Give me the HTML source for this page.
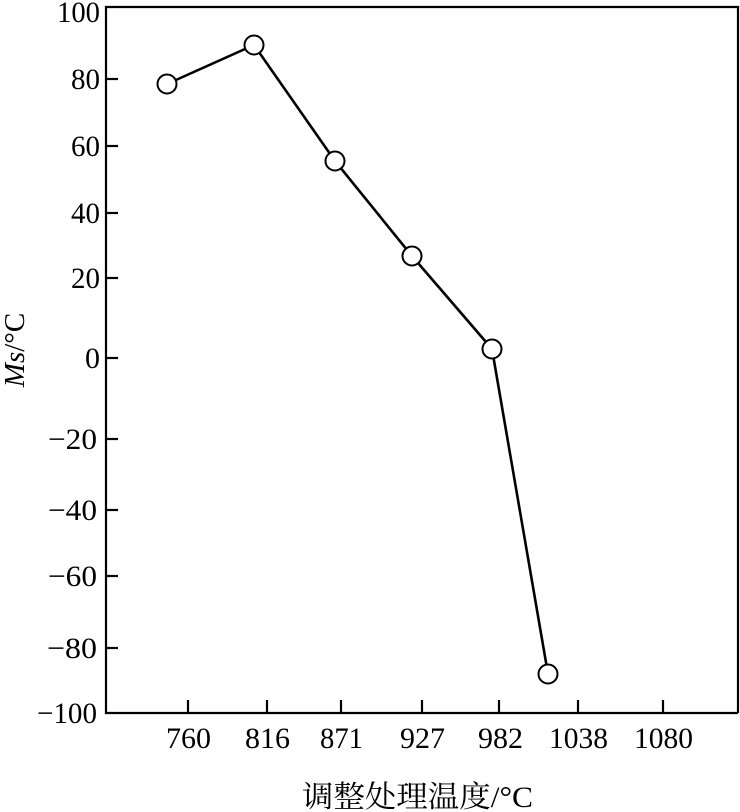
<!DOCTYPE html>
<html><head><meta charset="utf-8"><style>
html,body{margin:0;padding:0;background:#fff;}
svg{display:block;}
text{font-family:"Liberation Serif","Noto Serif CJK SC",serif;fill:#000;}
</style></head><body>
<svg width="740" height="812" viewBox="0 0 740 812">
<g stroke="#000" stroke-width="2.2" fill="none">
<polyline points="738,713 106,713 106,7 738,7 738,713"/>
<line x1="106" y1="79" x2="118" y2="79"/>
<line x1="106" y1="146" x2="118" y2="146"/>
<line x1="106" y1="213" x2="118" y2="213"/>
<line x1="106" y1="278" x2="118" y2="278"/>
<line x1="106" y1="358" x2="118" y2="358"/>
<line x1="106" y1="439" x2="118" y2="439"/>
<line x1="106" y1="510" x2="118" y2="510"/>
<line x1="106" y1="576" x2="118" y2="576"/>
<line x1="106" y1="648" x2="118" y2="648"/>
<line x1="188" y1="713" x2="188" y2="700"/>
<line x1="267" y1="713" x2="267" y2="700"/>
<line x1="341" y1="713" x2="341" y2="700"/>
<line x1="422" y1="713" x2="422" y2="700"/>
<line x1="499" y1="713" x2="499" y2="700"/>
<line x1="578" y1="713" x2="578" y2="700"/>
<line x1="663" y1="713" x2="663" y2="700"/>
<polyline stroke-width="2.6" points="167,84 254,45 335,161 412,256 492,349 548,674"/>
</g>
<g stroke="#000" stroke-width="2" fill="#fff">
<circle cx="167" cy="84" r="9.5"/>
<circle cx="254" cy="45" r="9.5"/>
<circle cx="335" cy="161" r="9.5"/>
<circle cx="412" cy="256" r="9.5"/>
<circle cx="492" cy="349" r="9.5"/>
<circle cx="548" cy="674" r="9.5"/>
</g>
<g font-size="30" lengthAdjust="spacingAndGlyphs">
<text x="57" y="22" textLength="43" lengthAdjust="spacingAndGlyphs">100</text>
<text x="71" y="89" textLength="29" lengthAdjust="spacingAndGlyphs">80</text>
<text x="71" y="156" textLength="29" lengthAdjust="spacingAndGlyphs">60</text>
<text x="71" y="223" textLength="29" lengthAdjust="spacingAndGlyphs">40</text>
<text x="71" y="288" textLength="29" lengthAdjust="spacingAndGlyphs">20</text>
<text x="85" y="368" textLength="15" lengthAdjust="spacingAndGlyphs">0</text>
<text x="48" y="449" textLength="49" lengthAdjust="spacingAndGlyphs">−20</text>
<text x="48" y="520" textLength="49" lengthAdjust="spacingAndGlyphs">−40</text>
<text x="48" y="586" textLength="49" lengthAdjust="spacingAndGlyphs">−60</text>
<text x="47" y="658" textLength="50" lengthAdjust="spacingAndGlyphs">−80</text>
<text x="37" y="723" textLength="60" lengthAdjust="spacingAndGlyphs">−100</text>
</g>
<g font-size="30">
<text x="166" y="748" textLength="45" lengthAdjust="spacingAndGlyphs">760</text>
<text x="245" y="748" textLength="45" lengthAdjust="spacingAndGlyphs">816</text>
<text x="320" y="748" textLength="43" lengthAdjust="spacingAndGlyphs">871</text>
<text x="400" y="748" textLength="45" lengthAdjust="spacingAndGlyphs">927</text>
<text x="478" y="748" textLength="45" lengthAdjust="spacingAndGlyphs">982</text>
<text x="549" y="748" textLength="59" lengthAdjust="spacingAndGlyphs">1038</text>
<text x="634" y="748" textLength="59" lengthAdjust="spacingAndGlyphs">1080</text>
</g>
<text x="302" y="807" font-size="30" textLength="231" lengthAdjust="spacingAndGlyphs">调整处理温度/°C</text>
<text transform="translate(24,350) rotate(-90)" font-size="29" text-anchor="middle"><tspan font-style="italic">Ms</tspan>/°C</text>
</svg>
</body></html>
